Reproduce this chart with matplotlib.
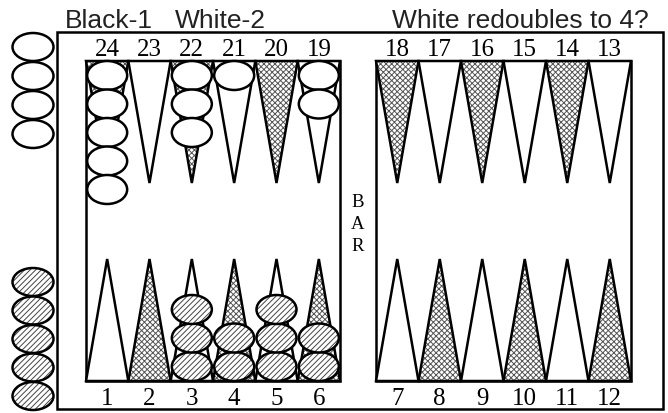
import matplotlib
matplotlib.use("Agg")
import matplotlib.pyplot as plt
from matplotlib.patches import Polygon, Ellipse, Rectangle

# point numbers, left to right
top_left = [24, 23, 22, 21, 20, 19]
top_right = [18, 17, 16, 15, 14, 13]
bottom_left = [1, 2, 3, 4, 5, 6]
bottom_right = [7, 8, 9, 10, 11, 12]
shaded = [24, 22, 20, 18, 16, 14, 2, 4, 6, 8, 10, 12]

# checkers on the board
white_stacks = {24: 5, 22: 3, 21: 1, 19: 2}
black_stacks = {3: 3, 4: 2, 5: 3, 6: 2}
white_off = 4
black_off = 5

title_left = "Black-1"
title_mid = "White-2"
title_right = "White redoubles to 4?"

plt.rcParams['hatch.linewidth'] = 0.7

W, H = 668, 414
fig = plt.figure(figsize=(W / 100, H / 100), dpi=100)
ax = fig.add_axes([0, 0, 1, 1])
ax.set_xlim(0, W)
ax.set_ylim(H, 0)
ax.axis('off')

LW = 1.8
board_top, board_bot = 62, 382
left_x0, left_x1 = 86, 340
right_x0, right_x1 = 376, 631
pt_len = 122
ck_w, ck_h = 40, 29


def hatched(patch_cls, *args, hatch, color, **kw):
    ax.add_patch(patch_cls(*args, facecolor='white', edgecolor=color,
                           lw=0, hatch=hatch, **kw))
    ax.add_patch(patch_cls(*args, facecolor='none', edgecolor='black',
                           lw=LW, **kw))


def point_x(num):
    for row, x0, x1 in [(top_left, left_x0, left_x1), (top_right, right_x0, right_x1),
                        (bottom_left, left_x0, left_x1), (bottom_right, right_x0, right_x1)]:
        if num in row:
            w = (x1 - x0) / 6
            i = row.index(num)
            return x0 + i * w, w
    return None


# frames
ax.add_patch(Rectangle((57, 33), 606, 377, fill=False, lw=LW, ec='black'))
ax.add_patch(Rectangle((left_x0, board_top), left_x1 - left_x0, board_bot - board_top,
                       fill=False, lw=LW, ec='black'))
ax.add_patch(Rectangle((right_x0, board_top), right_x1 - right_x0, board_bot - board_top,
                       fill=False, lw=LW, ec='black'))

# points
for num in range(1, 25):
    x, w = point_x(num)
    if num >= 13:
        pts = [(x, board_top), (x + w, board_top), (x + w / 2, board_top + pt_len)]
        ly = 48
    else:
        pts = [(x, board_bot), (x + w, board_bot), (x + w / 2, board_bot - pt_len)]
        ly = 397
    if num in shaded:
        hatched(Polygon, pts, hatch='xxxxxx', color='#555555', closed=True)
    else:
        ax.add_patch(Polygon(pts, closed=True, fc='white', ec='black', lw=LW))
    ax.text(x + w / 2, ly, str(num), ha='center', va='center_baseline',
            fontsize=18, family='Liberation Serif')

# checkers on points
for num, n in white_stacks.items():
    x, w = point_x(num)
    for k in range(n):
        cy = board_top + ck_h / 2 + k * 28.5
        ax.add_patch(Ellipse((x + w / 2, cy), ck_w, ck_h, fc='white', ec='black', lw=LW))
for num, n in black_stacks.items():
    x, w = point_x(num)
    for k in range(n):
        cy = board_bot - ck_h / 2 - k * 28.5
        hatched(Ellipse, (x + w / 2, cy), ck_w, ck_h, hatch='//////', color='#444444')

# borne-off checkers
for k in range(white_off):
    ax.add_patch(Ellipse((33, 48 + k * 29), 41, 28, fc='white', ec='black', lw=LW))
for k in range(black_off):
    hatched(Ellipse, (33, 283 + k * 28.5), 41, 28, hatch='//////', color='#444444')

# bar label
for k, ch in enumerate("BAR"):
    ax.text(358, 201 + k * 22, ch, ha='center', va='center_baseline',
            fontsize=13.5, family='Liberation Serif')

for tx, t in [(65, title_left), (175, title_mid), (392, title_right)]:
    ax.text(tx, 18, t, ha='left', va='center_baseline', fontsize=19,
            family='Liberation Sans', color='#222222')

fig.savefig("out.png", dpi=100)
